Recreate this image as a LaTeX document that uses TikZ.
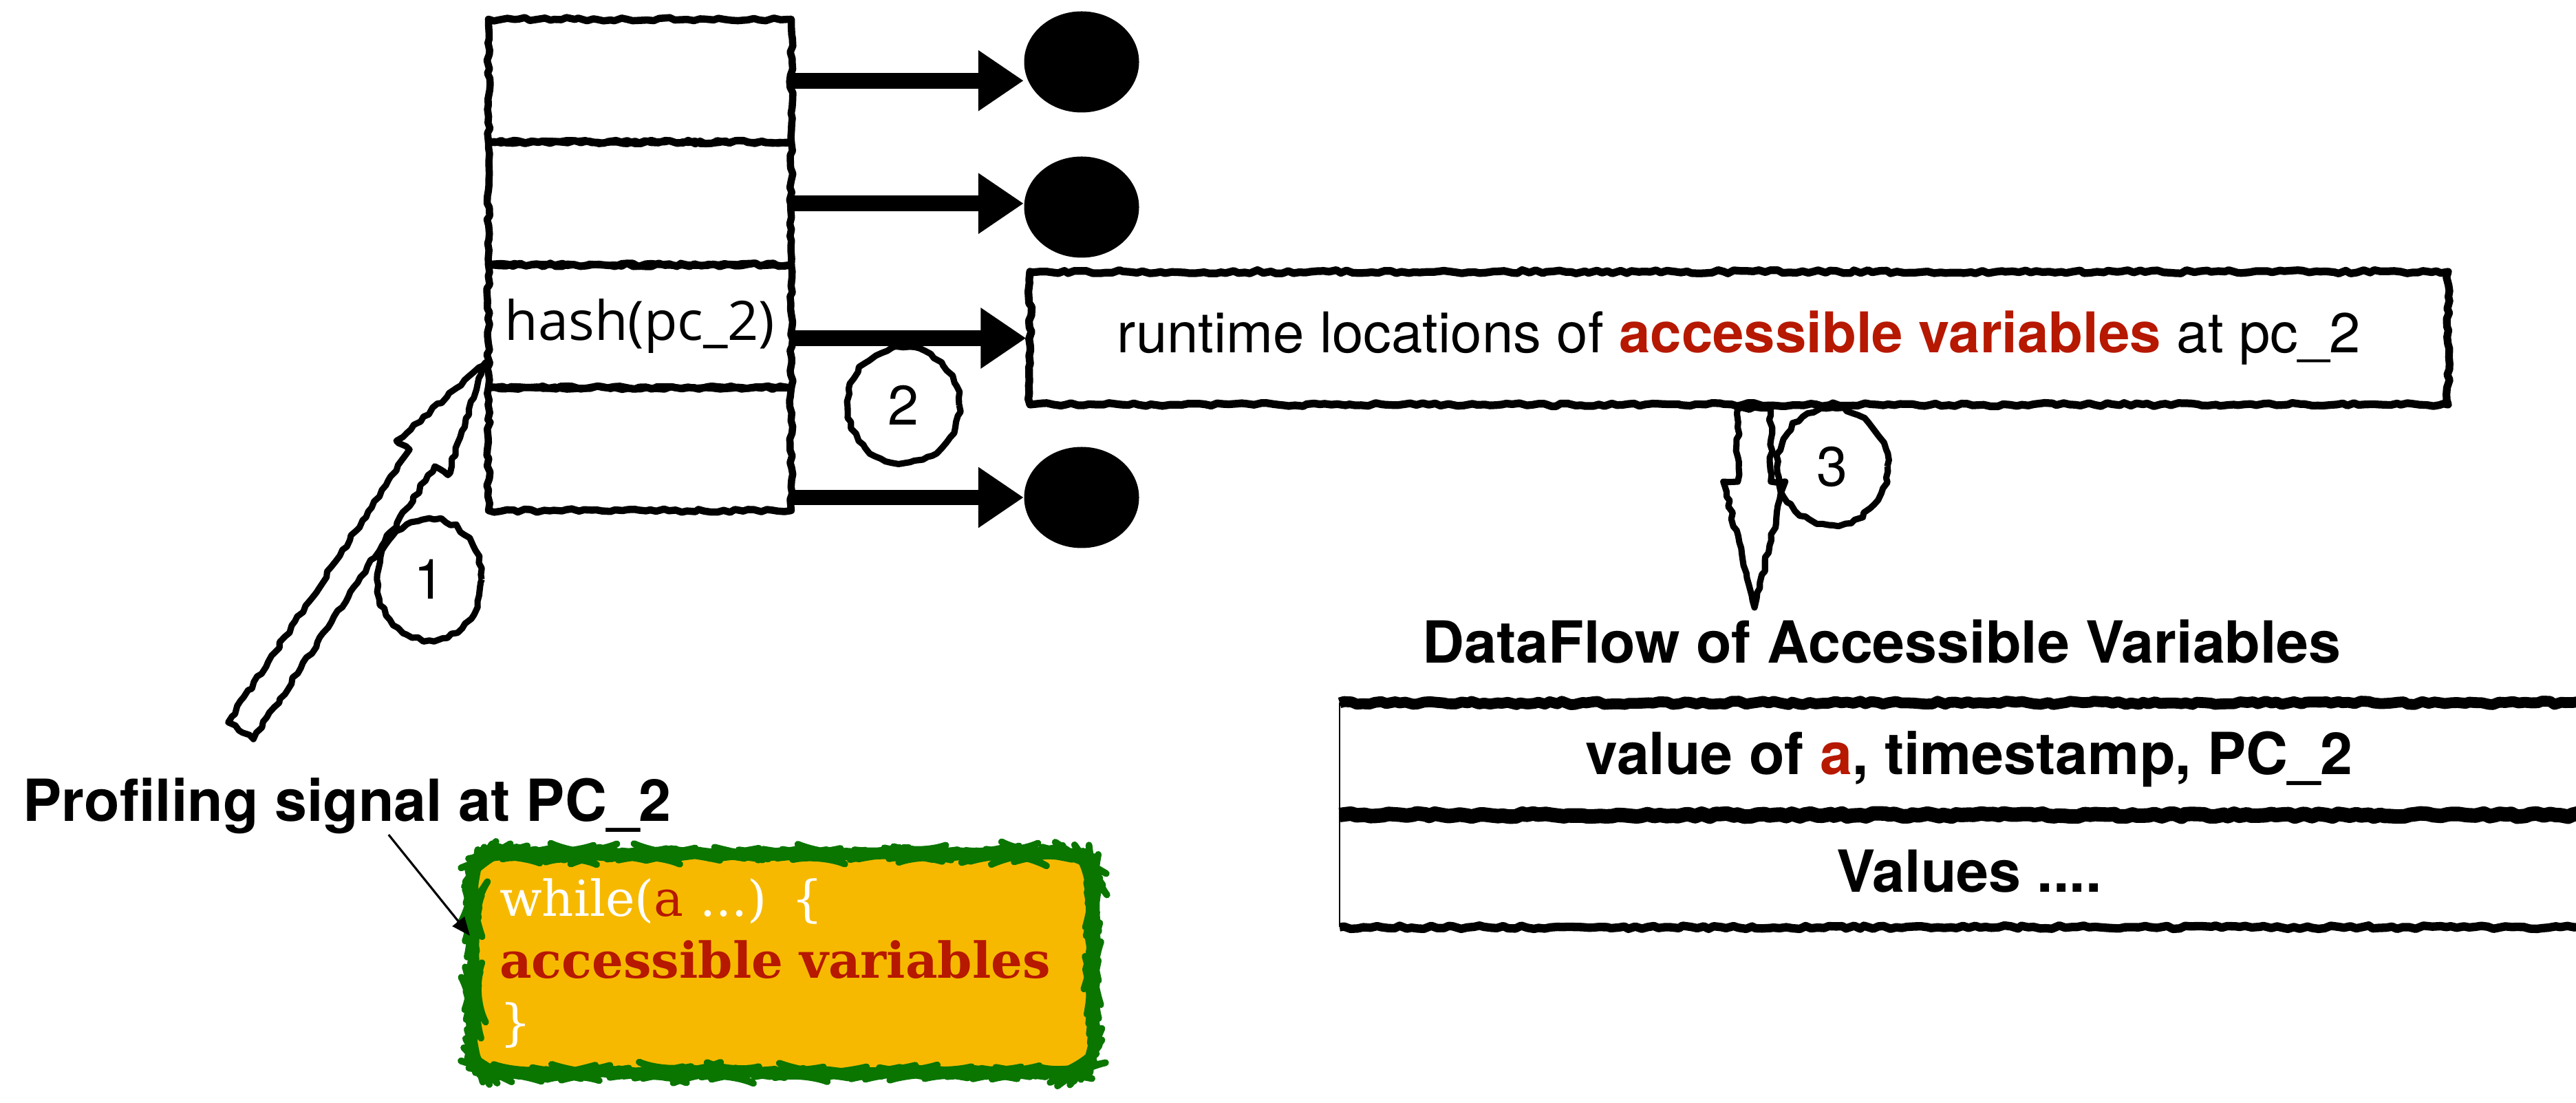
\documentclass[tikz,border=0pt]{standalone}
\usepackage{fontspec}
\setmainfont{TeX Gyre Heros}
\newfontfamily\hashfont{Open Sans}
\newfontfamily\codefont{DejaVu Serif}
\usepackage{tikz}
\usetikzlibrary{arrows.meta,positioning,shapes.geometric,calc,decorations.pathmorphing}
\definecolor{varred}{RGB}{182, 24, 0}
\definecolor{codeyellow}{RGB}{246, 185, 0}
\definecolor{codegreen}{RGB}{10, 118, 0}

% block arrow outline: tail, tip, shaft half width, head half width, head length
\newcommand{\hollowarrow}[5]{%
  \coordinate (hbase) at ($(#2)!#5!(#1)$);
  \draw[hollow] ($(#1)!#3!90:(#2)$) -- ($(hbase)!#3!90:(#2)$) -- ($(hbase)!#4!90:(#2)$)
    -- (#2) -- ($(hbase)!#4!-90:(#2)$) -- ($(hbase)!#3!-90:(#2)$) -- ($(#1)!#3!-90:(#2)$) -- cycle;
}

\begin{document}
\begin{tikzpicture}[>=Stealth,
  rough/.style={decorate, decoration={random steps, segment length=2.5pt, amplitude=0.7pt}, line join=round},
  cell/.style={draw, rough, line width=3pt, minimum width=4.4cm, minimum height=1.785cm,
               inner sep=0pt, outer sep=0pt, font=\hashfont\fontsize{22.5}{26}\selectfont},
  dot/.style={ellipse, fill=black, minimum width=1.67cm, minimum height=1.47cm, inner sep=0pt},
  ptr/.style={line width=6.5pt, -{Triangle[length=0.66cm, width=0.84cm]}},
  numcirc/.style={ellipse, draw, rough, line width=2.6pt, inner sep=0pt, font=\fontsize{23}{27}\selectfont},
  hollow/.style={draw, rough, line width=2.6pt, fill=white},
  bigtext/.style={font=\bfseries\fontsize{24}{28}\selectfont, inner sep=0pt},
  tabrow/.style={minimum width=18.3cm, minimum height=1.63cm, inner sep=0pt, outer sep=0pt,
                 font=\bfseries\fontsize{24}{28}\selectfont},
  codebox/.style={draw=codegreen, fill=codeyellow, line width=2.8pt, rounded corners=0.4cm,
                  decorate, decoration={random steps, segment length=2pt, amplitude=0.45pt}, line join=round,
                  text=white, align=left, text width=8.24cm, inner xsep=0.38cm,
                  minimum height=3.18cm, font=\codefont\fontsize{20.5}{25.6}\selectfont}]
  \pgfmathsetseed{7}
  \path[use as bounding box, fill=white] (0,0) rectangle (37.44,16.02);

  % hash table
  \node[cell] (cell1) at (9.30,14.8475) {};
  \node[cell, below=0pt of cell1] (cell2) {};
  \node[cell, below=0pt of cell2] (cell3) {hash(pc\_2)};
  \node[cell, below=0pt of cell3] (cell4) {};

  % buckets
  \node[dot] (dot1) at (15.72,15.12) {};
  \node[dot] (dot2) at (15.72,13.01) {};
  \node[dot] (dot4) at (15.72,8.79) {};
  \node[draw, rough, line width=3.2pt, minimum width=20.61cm, minimum height=1.93cm,
        font=\fontsize{23.2}{27}\selectfont] (rt) at (25.275,11.105)
        {runtime locations of \textcolor{varred}{\bfseries accessible variables} at pc\_2};

  \draw[ptr] (cell1.east) -- (cell1.east -| dot1.west);
  \draw[ptr] (cell2.east) -- (cell2.east -| dot2.west);
  \draw[ptr] (rt.west -| cell3.east) -- (rt.west);
  \draw[ptr] (dot4 -| cell4.east) -- (dot4.west);

  % signal side
  \node[bigtext, anchor=base west] (sig) at (0.33,4.08) {Profiling signal at PC\_2};
  \node[codebox] (code) at (11.38,2.02)
    {while(\textcolor{varred}{a} ...) \{\\
     \textcolor{varred}{\bfseries accessible variables}\\
     \}};
  \draw[line width=0.9pt, -{Triangle[length=0.27cm, width=0.22cm]}] ([xshift=6mm]sig.south) -- ([yshift=4mm]code.west);

  \coordinate (sigtail) at (3.50,5.40);
  \coordinate (sigtip) at ($(cell3.south west)+(-0.04,0.37)$);
  \hollowarrow{sigtail}{sigtip}{0.22cm}{0.45cm}{1.67cm}

  % data flow side
  \coordinate (dftail) at ($(rt.south)+(0.22,0)$);
  \coordinate (dftip) at (25.50,7.19);
  \hollowarrow{dftail}{dftip}{0.24cm}{0.45cm}{1.83cm}

  \node[bigtext, anchor=base] (dfl) at (27.35,6.38) {DataFlow of Accessible Variables};
  \node[tabrow] (val) at (28.62,4.99) {value of \textcolor{varred}{a}, timestamp, PC\_2};
  \node[tabrow, below=0pt of val] (more) {Values ....};
  \draw[line width=4.5pt, rough] (val.north west) -- (val.north east);
  \draw[line width=6pt, rough] (val.south west) -- (val.south east);
  \draw[line width=3.5pt, rough] (more.south west) -- (more.south east);
  \draw[line width=0.6pt] (val.north west) -- (more.south west);

  % step numbers
  \node[numcirc, minimum width=1.52cm, minimum height=1.77cm] (one) at (6.24,7.60) {1};
  \node[numcirc, minimum width=1.62cm, minimum height=1.68cm] (two) at (13.13,10.13) {2};
  \node[numcirc, minimum width=1.60cm, minimum height=1.70cm] (three) at (26.63,9.24) {3};
\end{tikzpicture}
\end{document}
